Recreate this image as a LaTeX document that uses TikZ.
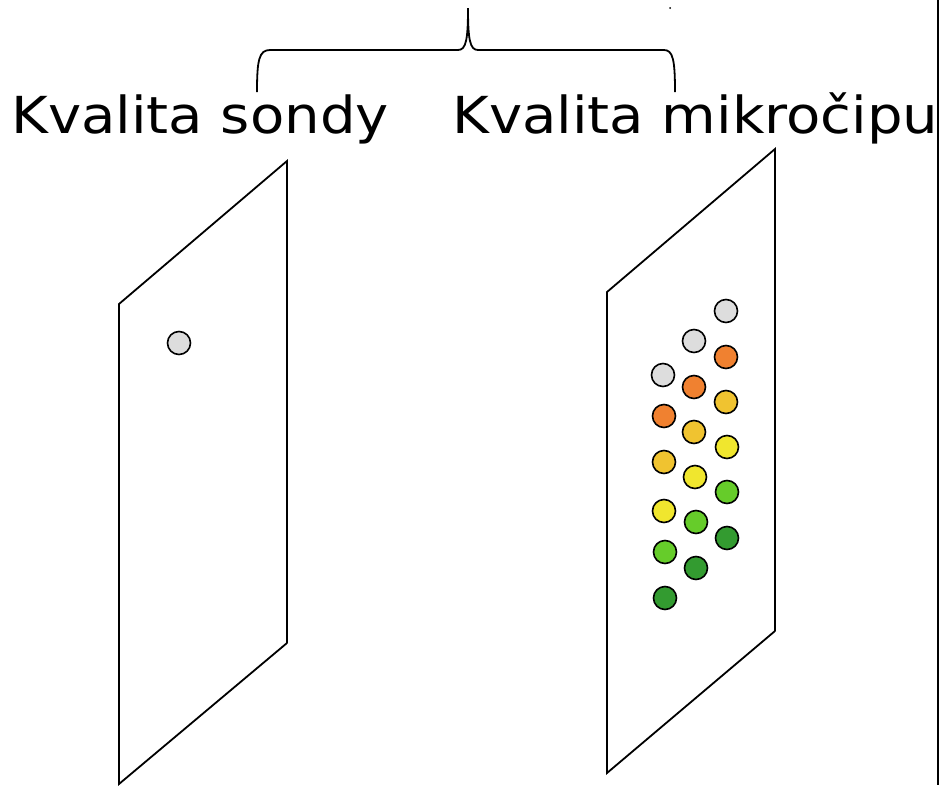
\documentclass[tikz,border=0pt]{standalone}
\usepackage{fontspec}
\setmainfont{DejaVu Sans}
\usepackage{xcolor}
\usetikzlibrary{positioning, calc}
\definecolor{spotGray}{HTML}{DDDDDD}
\definecolor{spotOrange}{HTML}{F08130}
\definecolor{spotAmber}{HTML}{F0C330}
\definecolor{spotYellow}{HTML}{F0E62E}
\definecolor{spotLime}{HTML}{66CC2A}
\definecolor{spotGreen}{HTML}{339B30}
\newcommand{\widetitle}[1]{\scalebox{1.1}[1]{#1}}

\begin{document}
\begin{tikzpicture}[x=1pt, y=-1pt,
    panel/.style={line width=1.8pt, black, line join=miter},
    spot/.style={circle, draw=black, line width=1.6pt, minimum size=23pt, inner sep=0pt},
    title/.style={anchor=base west, font=\fontsize{51}{60}\selectfont, inner sep=0pt},
    brace/.style={line width=1.8pt, black}
  ]
  \useasboundingbox (0,0) rectangle (943,785);

  % titles
  \node[title] (tsonda) at (11,133.5) {\widetitle{Kvalita sondy}};
  \node[title] (tchip)  at (452,133.5) {\widetitle{Kvalita mikročipu}};

  % brace over both titles
  \draw[brace] (257,92) .. controls (257,60) and (259,50) .. (270,50)
    -- (458,50) .. controls (466,50) and (468,40) .. (468,8)
    .. controls (468,40) and (470,50) .. (478,50)
    -- (664,50) .. controls (673,50) and (675,60) .. (675,92);
  \fill (670,8) circle (1pt);

  % right border
  \draw[line width=1.8pt] (938,0) -- (938,785);

  % probe panel
  \draw[panel] (287,643) -- (119,784) -- (119,304) -- (287,161) -- (287,643);
  % chip panel
  \draw[panel] (775,631) -- (607,773) -- (607,292) -- (775,149) -- (775,631);

  % probe spot
  \node[spot, fill=spotGray] (p1) at (179,343) {};

  % chip spots
  \foreach \c/\x/\y in {spotGray/663/375, spotOrange/664/416, spotAmber/664/462,
                        spotYellow/664/511, spotLime/665/552, spotGreen/665/598} {
    \node[spot, fill=\c] at (\x,\y) {};
  }
  \foreach \c/\x/\y in {spotGray/694/341, spotOrange/694/387, spotAmber/694/432,
                        spotYellow/695/477, spotLime/696/522, spotGreen/696/568} {
    \node[spot, fill=\c] at (\x,\y) {};
  }
  \foreach \c/\x/\y in {spotGray/726/311, spotOrange/726/357, spotAmber/726/402,
                        spotYellow/727/447, spotLime/727/492, spotGreen/727/538} {
    \node[spot, fill=\c] at (\x,\y) {};
  }
\end{tikzpicture}
\end{document}
